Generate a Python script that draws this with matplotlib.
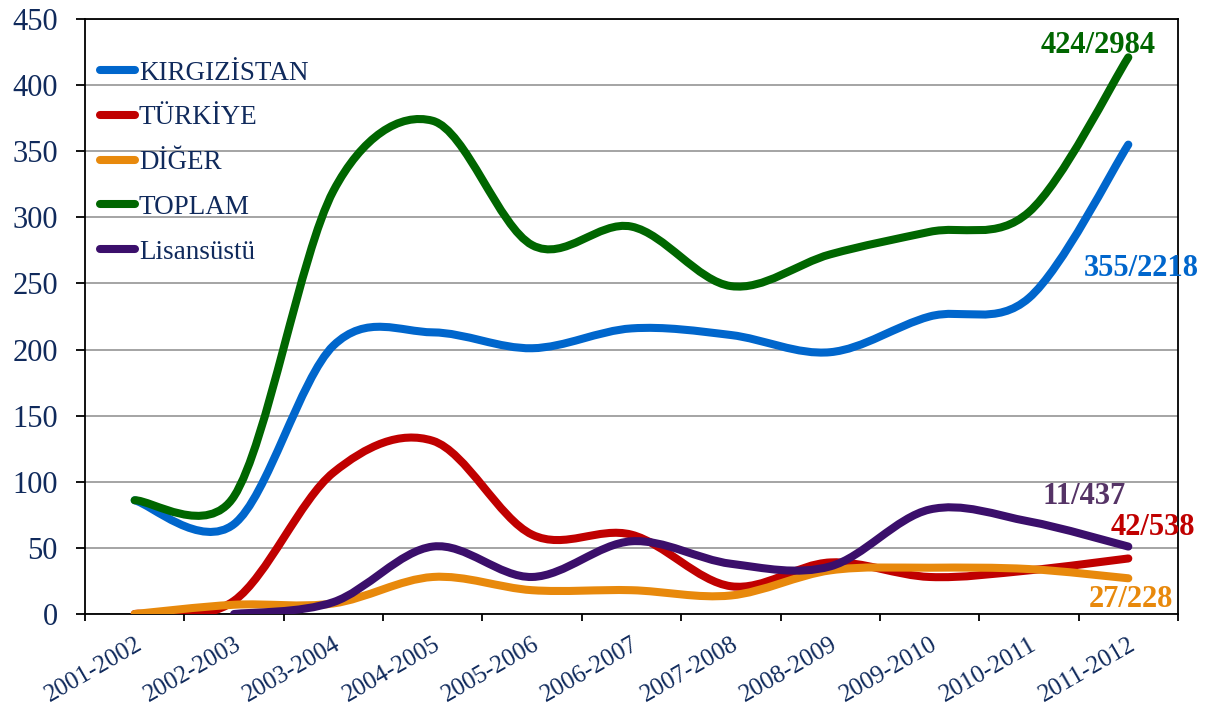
import numpy as np
import matplotlib
matplotlib.use('Agg')
import matplotlib.pyplot as plt
from matplotlib.path import Path
from matplotlib.patches import PathPatch
from matplotlib.lines import Line2D

plt.rcParams['font.family'] = ['Liberation Serif', 'DejaVu Serif']

years = ['2001-2002', '2002-2003', '2003-2004', '2004-2005', '2005-2006', '2006-2007',
         '2007-2008', '2008-2009', '2009-2010', '2010-2011', '2011-2012']
kirgizistan = [86, 68, 203, 213, 201, 216, 211, 198, 225, 239, 355]
turkiye = [0, 10, 107, 131, 60, 60, 21, 39, 28, 33, 42]
diger = [0, 7, 8, 28, 18, 18, 14, 33, 35, 34, 27]
toplam = [86, 89, 320, 373, 279, 293, 248, 272, 289, 304, 421]
lisansustu = [None, 0, 9, 51, 28, 55, 38, 36, 79, 70, 51]

names = ['KIRGIZİSTAN', 'TÜRKİYE', 'DİĞER', 'TOPLAM', 'Lisansüstü']
colors = ['#0066CC', '#C00000', '#E8890C', '#006600', '#3B0F6B']
series = [kirgizistan, turkiye, diger, toplam, lisansustu]

end_labels = ['355/2218', '42/538', '27/228', '424/2984', '11/437']
label_colors = ['#0066CC', '#C00000', '#E8890C', '#006600', '#553366']
label_pos = [(10.13, 256), (10.25, 60), (10.03, 5), (9.70, 424), (9.56, 83.5)]

W, H = 1216, 714
left, right, top, bottom = 85, 1178, 19, 614
fig = plt.figure(figsize=(W / 100, H / 100), dpi=100)
ax = fig.add_axes([left / W, 1 - bottom / H, (right - left) / W, (bottom - top) / H])

ymax = 450
sx = (right - left) / len(years)   # px per category
sy = (bottom - top) / ymax         # px per unit


def smooth_path(xs, ys):
    # excel-like smoothed line: bezier with arms capped at half segment
    P = np.column_stack([np.array(xs, float) * sx, np.array(ys, float) * sy])
    n = len(P)
    verts = [P[0]]
    codes = [Path.MOVETO]
    for i in range(n - 1):
        p0 = P[i - 1] if i > 0 else P[i]
        p1, p2 = P[i], P[i + 1]
        p3 = P[i + 2] if i + 2 < n else P[i + 1]
        d12 = np.linalg.norm(p2 - p1)
        a = (p2 - p0) / 6.0
        b = (p3 - p1) / 6.0
        la, lb = np.linalg.norm(a), np.linalg.norm(b)
        if la > d12 / 2:
            a *= d12 / 2 / la
        if lb > d12 / 2:
            b *= d12 / 2 / lb
        verts += [p1 + a, p2 - b, p2]
        codes += [Path.CURVE4] * 3
    V = np.array(verts)
    V[:, 0] /= sx
    V[:, 1] /= sy
    return Path(V, codes)


for vals, c in zip(series, colors):
    xs = [i for i, v in enumerate(vals) if v is not None]
    ys = [v for v in vals if v is not None]
    patch = PathPatch(smooth_path(xs, ys), facecolor='none', edgecolor=c,
                      lw=5.8, capstyle='round', joinstyle='round', zorder=3)
    ax.add_patch(patch)

for txt, c, (x, y) in zip(end_labels, label_colors, label_pos):
    ax.text(x, y, txt, color=c, fontsize=22, fontweight='bold',
            ha='center', va='baseline', zorder=5)

ax.set_xlim(-0.5, len(years) - 0.5)
ax.set_ylim(0, ymax)
ax.set_yticks(np.arange(0, ymax + 1, 50))
ax.grid(axis='y', color='#8c8c8c', lw=1.1)
ax.set_axisbelow(True)

ax.set_xticks(np.arange(len(years) + 1) - 0.5)
ax.set_xticklabels([])
ax.set_xticks(np.arange(len(years)), minor=True)
ax.set_xticklabels(years, minor=True, rotation=30, ha='right', va='top',
                   rotation_mode='anchor', fontsize=18, color='#102a5c')
ax.tick_params(axis='x', which='minor', length=0, pad=14)
ax.tick_params(axis='x', which='major', length=5, width=1.3, color='black')
ax.tick_params(axis='y', length=6.5, width=1.3, labelsize=22, labelcolor='#102a5c', pad=13)
for s in ax.spines.values():
    s.set_color('black')
    s.set_linewidth(1.3)

handles = [Line2D([0], [0], color=c, lw=5.8, solid_capstyle='round') for c in colors]
leg = ax.legend(handles, names, loc='upper left', bbox_to_anchor=(-0.004, 0.962),
                frameon=False, fontsize=19.5, handlelength=1.3, handletextpad=0.15,
                labelspacing=0.73, borderaxespad=0.3)
for t in leg.get_texts():
    t.set_color('#102a5c')

fig.savefig('out.png', dpi=100)
